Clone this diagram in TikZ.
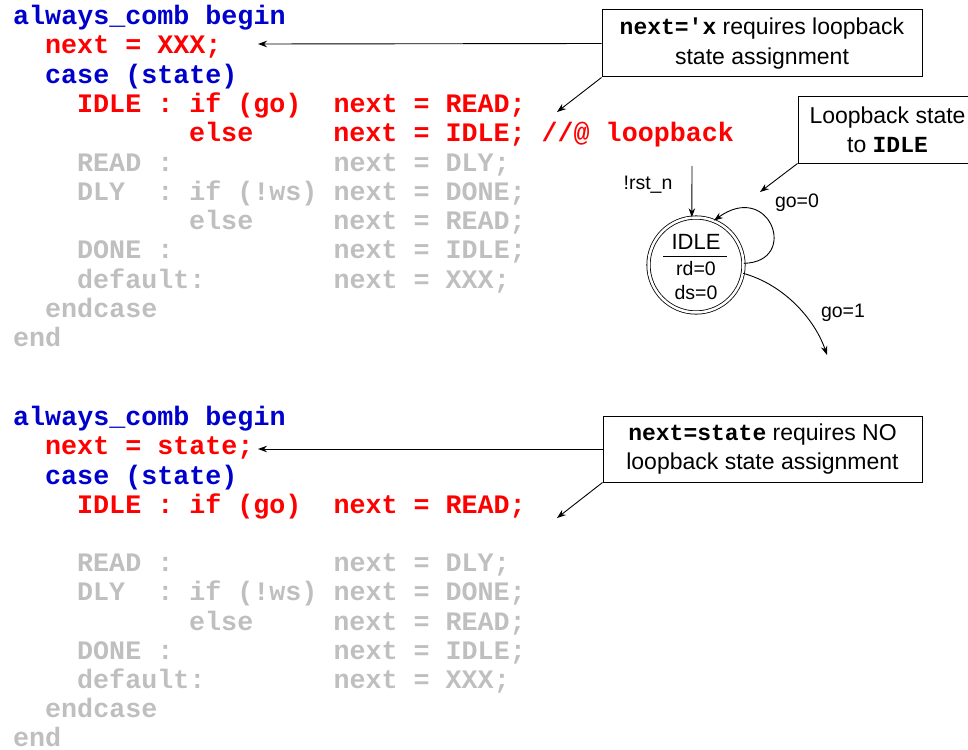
\documentclass[tikz,border=0pt]{standalone}
\usepackage{fontspec}
\setmainfont{Liberation Sans}
\setmonofont{Liberation Mono}
\usetikzlibrary{arrows.meta}
\definecolor{cblue}{RGB}{0,0,204}
\definecolor{cred}{RGB}{255,0,0}
\definecolor{cgray}{RGB}{191,191,191}
\begin{document}
\begin{tikzpicture}[x=1pt,y=-1pt,
  code/.style={anchor=base west, inner sep=0pt, font=\fontsize{26.7}{30}\selectfont\ttfamily\bfseries},
  kw/.style={code,text=cblue}, hot/.style={code,text=cred}, dim/.style={code,text=cgray},
  note/.style={draw, line width=1pt, align=center, inner sep=0pt, font=\fontsize{23}{29.5}\selectfont},
  lbl/.style={font=\fontsize{19.5}{22}\selectfont, inner sep=0pt},
  tip/.style={-{Stealth[length=9pt,width=6.5pt]}, line width=0.9pt},
]
\useasboundingbox (0,0) rectangle (968,749);
% ---------- top code block ----------
\node[kw]  (t1)  at (13,24.5)  {always\_comb~begin};
\node[hot] (t2)  at (45,53.8)  {next~=~XXX;};
\node[kw]  (t3)  at (45,83.1)  {case~(state)};
\node[hot] (t4)  at (77,112.4) {IDLE~:~if~(go)~~next~=~READ;};
\node[hot] (t5)  at (189,141.7) {else~~~~~next~=~IDLE;~//@~loopback};
\node[dim] (t6)  at (77,171)   {READ~:~~~~~~~~~~next~=~DLY;};
\node[dim] (t7)  at (77,200.3) {DLY~~:~if~(!ws)~next~=~DONE;};
\node[dim] (t8)  at (189,229.6) {else~~~~~next~=~READ;};
\node[dim] (t9)  at (77,258.9) {DONE~:~~~~~~~~~~next~=~IDLE;};
\node[dim] (t10) at (77,288.2) {default:~~~~~~~~next~=~XXX;};
\node[dim] (t11) at (45,317.5) {endcase};
\node[dim] (t12) at (13,346.8) {end};
% ---------- bottom code block ----------
\node[kw]  (b1)  at (13,425.7)  {always\_comb~begin};
\node[hot] (b2)  at (45,454.9)  {next~=~state;};
\node[kw]  (b3)  at (45,484.1)  {case~(state)};
\node[hot] (b4)  at (77,513.3)  {IDLE~:~if~(go)~~next~=~READ;};
\node[dim] (b6)  at (77,571.7)  {READ~:~~~~~~~~~~next~=~DLY;};
\node[dim] (b7)  at (77,600.9)  {DLY~~:~if~(!ws)~next~=~DONE;};
\node[dim] (b8)  at (189,630.1) {else~~~~~next~=~READ;};
\node[dim] (b9)  at (77,659.3)  {DONE~:~~~~~~~~~~next~=~IDLE;};
\node[dim] (b10) at (77,688.5)  {default:~~~~~~~~next~=~XXX;};
\node[dim] (b11) at (45,717.7)  {endcase};
\node[dim] (b12) at (13,746.6)  {end};
% ---------- callouts ----------
\node[note, minimum width=320pt, minimum height=67pt] (c1) at (762,43.5)
  {{\ttfamily\bfseries next='x} requires loopback\\state assignment};
\coordinate (a1) at (258,44);
\coordinate (a2) at (557,112);
\draw[tip] (c1.west) -- (a1);
\draw[tip] (c1.south west) -- (a2);

\node[note, minimum width=179pt, minimum height=66pt] (c2) at (887.5,130)
  {Loopback state\\to {\ttfamily\bfseries IDLE}};
\coordinate (a3) at (760,192);
\draw[tip] (c2.south west) -- (a3);

\node[note, minimum width=319pt, minimum height=66pt] (c3) at (762.5,449)
  {{\ttfamily\bfseries next=state} requires NO\\loopback state assignment};
\coordinate (a4) at (258,449);
\coordinate (a5) at (557,518);
\draw[tip] (c3.west) -- (a4);
\draw[tip] (c3.south west) -- (a5);
% ---------- state ----------
\node[circle, draw, double, double distance=2.5pt, line width=0.8pt, minimum size=95pt, inner sep=0pt] (idle) at (696,265) {};
\node[inner sep=0pt, font=\fontsize{22}{24}\selectfont] (sname) at (696,242) {IDLE};
\draw[line width=0.8pt] (663,256) -- (727,256);
\node[lbl] (rd) at (696,269) {rd=0};
\node[lbl] (ds) at (696,293) {ds=0};

\node[lbl] (rl) at (648,185) {!rst\_n};
\coordinate (rs) at (692,166);
\draw[tip] (rs) -- (idle.95);

\draw[tip] (idle.2) .. controls (800,262) and (770,180) .. (idle.68);
\node[lbl] (g0) at (797,203) {go=0};

\coordinate (g1end) at (827,355);
\draw[tip] (idle.-10) .. controls (785,285) and (815,320) .. (g1end);
\node[lbl] (g1) at (843,313) {go=1};
\end{tikzpicture}
\end{document}
